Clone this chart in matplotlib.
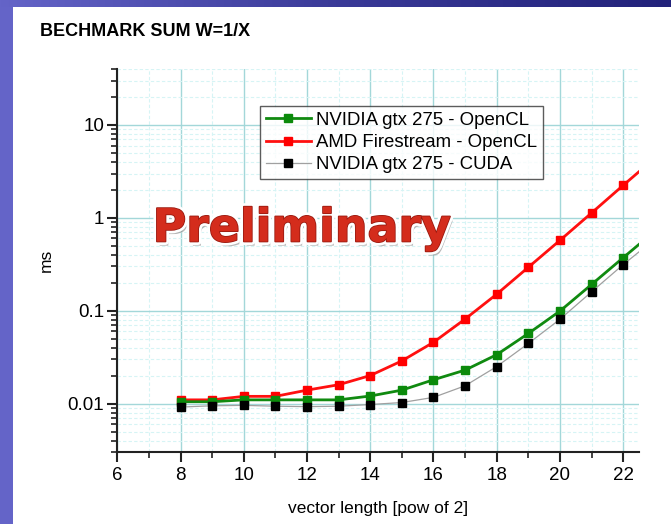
import matplotlib
matplotlib.use("Agg")
import matplotlib.pyplot as plt
import matplotlib.patheffects as pe
from matplotlib.ticker import LogLocator, MultipleLocator, FixedLocator, NullFormatter
from matplotlib.colors import LinearSegmentedColormap
import numpy as np

x_pow = [8, 9, 10, 11, 12, 13, 14, 15, 16, 17, 18, 19, 20, 21, 22, 23]
nvidia_opencl = [0.0105, 0.0105, 0.0110, 0.0110, 0.0110, 0.0110, 0.0121, 0.0140,
                 0.0181, 0.0230, 0.0337, 0.0570, 0.0993, 0.192, 0.373, 0.72]
amd_opencl = [0.0110, 0.0110, 0.0120, 0.0120, 0.0140, 0.0160, 0.0201, 0.0289,
              0.0458, 0.0815, 0.151, 0.294, 0.573, 1.13, 2.24, 4.4]
nvidia_cuda = [0.0092, 0.0095, 0.0096, 0.0094, 0.0093, 0.0094, 0.0098, 0.0103,
               0.0117, 0.0156, 0.0251, 0.0445, 0.081, 0.160, 0.314, 0.59]
labels = ["NVIDIA gtx 275 - OpenCL", "AMD Firestream - OpenCL", "NVIDIA gtx 275 - CUDA"]
x_ticks = [6, 8, 10, 12, 14, 16, 18, 20, 22]
y_ticks = [0.01, 0.1, 1, 10]
y_tick_labels = ["0.01", "0.1", "1", "10"]

plt.rcParams['font.family'] = ['Liberation Sans', 'DejaVu Sans']

fig = plt.figure(figsize=(6.71, 5.24), dpi=100)
fig.patch.set_facecolor('white')

# slide decoration: left bar and top gradient bar
left_bar = fig.add_axes([0, 0, 13/671, 1])
left_bar.set_axis_off()
left_bar.add_patch(plt.Rectangle((0, 0), 1, 1, color='#6464c8', transform=left_bar.transAxes))
top_bar = fig.add_axes([0, 1 - 7/524, 1, 7/524])
top_bar.set_axis_off()
grad = np.linspace(0, 1, 256).reshape(1, -1)
cmap = LinearSegmentedColormap.from_list('slide', ['#6464c8', '#3a3a98', '#22227a'])
top_bar.imshow(grad, aspect='auto', cmap=cmap, extent=[0, 1, 0, 1])

fig.text(40/671, 1 - 31/524, "BECHMARK SUM W=1/X", fontsize=13, fontweight='bold',
         ha='left', va='center', color='black')

ax = fig.add_axes([117.3/671, 1 - 452.3/524, (639 - 117.3)/671, (452.3 - 69)/524])
ax.set_yscale('log')
ax.set_xlim(6, 22.5)
ax.set_ylim(0.003, 40)

major_grid = '#a3d7d9'
minor_grid = '#d6f4f5'
ax.xaxis.set_major_locator(FixedLocator(x_ticks))
ax.xaxis.set_minor_locator(MultipleLocator(1))
ax.yaxis.set_major_locator(FixedLocator(y_ticks))
ax.set_yticklabels(y_tick_labels)
ax.yaxis.set_minor_locator(LogLocator(base=10, subs=np.arange(2, 10)))
ax.yaxis.set_minor_formatter(NullFormatter())
ax.grid(which='major', color=major_grid, linewidth=1.0, linestyle='-')
ax.grid(which='minor', color=minor_grid, linewidth=0.8, linestyle=(0, (3, 2)))
ax.set_axisbelow(True)

for s in ['top', 'right']:
    ax.spines[s].set_visible(False)
for s in ['left', 'bottom']:
    ax.spines[s].set_linewidth(1.5)
    ax.spines[s].set_color('#222222')
ax.tick_params(which='major', direction='out', length=7, width=1.5, labelsize=13.5,
               color='#222222')
ax.tick_params(axis='y', which='major', pad=2.5)
ax.tick_params(which='minor', direction='out', length=4, width=1.2, color='#222222')

ax.plot(x_pow, nvidia_opencl, color='#108a10', linewidth=2, marker='s', markersize=6,
        markerfacecolor='#0b8a0b', markeredgecolor='#0b8a0b', label=labels[0], zorder=4)
ax.plot(x_pow, amd_opencl, color='#ff1010', linewidth=2, marker='s', markersize=6,
        markerfacecolor='#ff0000', markeredgecolor='#ff0000', label=labels[1], zorder=3)
ax.plot(x_pow, nvidia_cuda, color='#a0a0a0', linewidth=0.9, marker='s', markersize=6,
        markerfacecolor='black', markeredgecolor='black', label=labels[2], zorder=5)

leg = ax.legend(loc='upper left', bbox_to_anchor=(0.2735, 0.904), borderaxespad=0,
                fontsize=13.4, frameon=True, fancybox=False, edgecolor='#333333',
                handlelength=2.4, handletextpad=0.3, labelspacing=0.28, borderpad=0.32,
                numpoints=1)
leg.get_frame().set_linewidth(1.0)
leg.set_zorder(10)

ax.set_ylabel("ms", fontsize=12.5, labelpad=10)
ax.set_xlabel("vector length [pow of 2]", fontsize=12.5, labelpad=12)

fig.text(302/671, 1 - 229/524, "Preliminary", fontsize=33, fontweight='bold',
         family='DejaVu Sans', color='#d42c1c', ha='center', va='center', zorder=20,
         path_effects=[pe.SimplePatchShadow(offset=(2, -3), shadow_rgbFace='#888888', alpha=0.6),
                       pe.withStroke(linewidth=5, foreground='white'),
                       pe.withStroke(linewidth=1.2, foreground='#9a1a10')])

fig.savefig("out.png", dpi=100)
